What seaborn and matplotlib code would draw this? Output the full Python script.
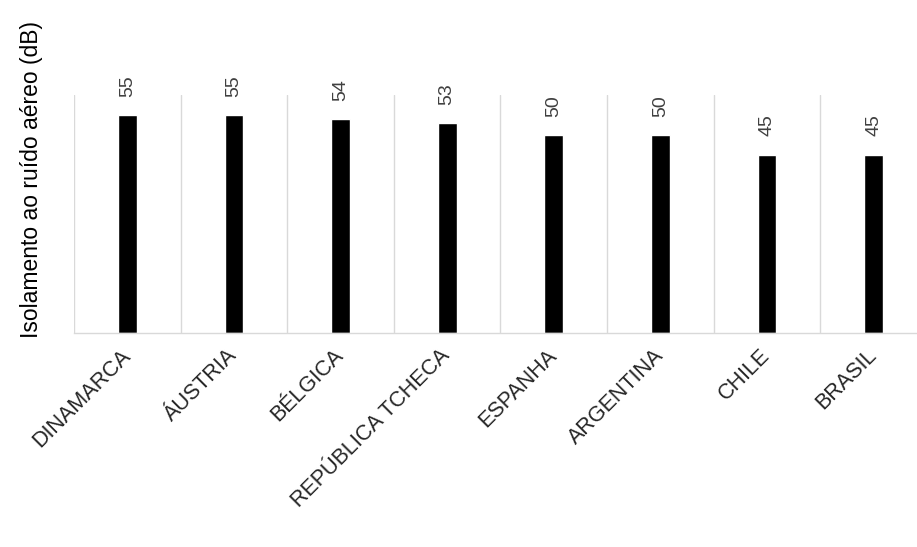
import matplotlib
matplotlib.use("Agg")
import matplotlib.pyplot as plt
import seaborn as sns
import pandas as pd

# Airborne sound insulation requirements by country
countries = ["DINAMARCA", "ÁUSTRIA", "BÉLGICA", "REPÚBLICA TCHECA",
             "ESPANHA", "ARGENTINA", "CHILE", "BRASIL"]
insulation_db = [55, 55, 54, 53, 50, 50, 45, 45]
y_label = "Isolamento ao ruído aéreo (dB)"

df = pd.DataFrame({"country": countries, "db": insulation_db})

sns.set_theme(style="white")
plt.rcParams["font.family"] = ["Liberation Sans", "DejaVu Sans"]

fig = plt.figure(figsize=(9.17, 5.47), dpi=100)
ax = fig.add_axes([0.0807, 0.3912, 0.9302, 0.4351])

sns.barplot(data=df, x="country", y="db", color="black", width=0.175,
            saturation=1, ax=ax)

ax.set_xlim(-0.5, len(countries) - 0.5)
ax.set_ylim(0, 60)

# category separators
for i in range(len(countries) + 1):
    ax.axvline(i - 0.5, color="#d9d9d9", lw=1, zorder=0)

for side in ["top", "right", "left"]:
    ax.spines[side].set_visible(False)
ax.spines["bottom"].set_color("#d9d9d9")
ax.spines["bottom"].set_linewidth(1)

ax.set_yticks([])
ax.tick_params(axis="x", length=0, pad=14)
ax.set_xticks(range(len(countries)))
ax.set_xticklabels(countries, rotation=45, ha="right", va="center",
                   rotation_mode="anchor", fontsize=15.5, color="#262626")

ax.set_xlabel("")
ax.set_ylabel(y_label, fontsize=16.5, color="#000000")
ax.yaxis.set_label_coords(-0.036, 0.645)

ax.bar_label(ax.containers[0], labels=[str(v) for v in insulation_db],
             rotation=90, padding=13, fontsize=14, color="#404040")

fig.savefig("out.png", dpi=100)
